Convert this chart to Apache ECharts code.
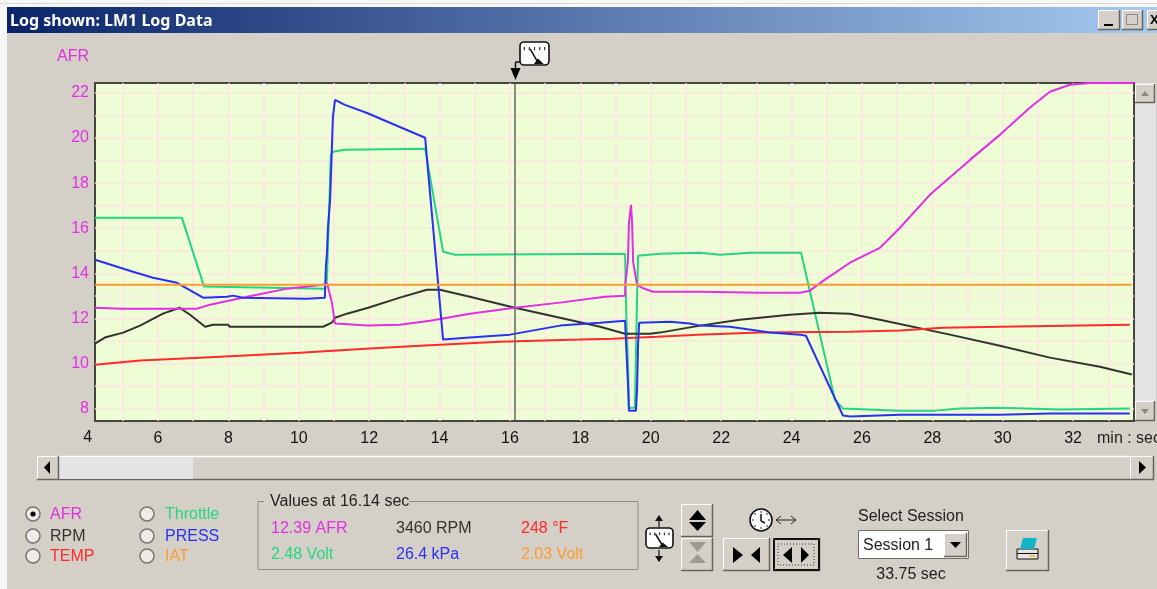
<!DOCTYPE html>
<html lang="en">
<head>
  <meta charset="UTF-8">
  <title>LM1 Log Data</title>
  <style>
    html,
    body,
    #main {
      margin: 0;
      padding: 0;
      overflow: hidden;
    }

    #main {
      width: 1157px;
      height: 589px;
    }
  </style>
</head>
<body>
  <div id="main"></div>
  <script src="https://cdn.jsdelivr.net/npm/echarts@6/dist/echarts.min.js"></script>
  <script>
    // [sec, AFR scale]
    const afrData = [[4.21,12.47],[5.01,12.43],[7.11,12.43],[7.48,12.61],[8.53,12.96],[9.67,13.32],[10.23,13.41],[10.69,13.49],[10.80,13.58],[10.94,12.70],[11.03,11.77],[11.97,11.68],[12.87,11.72],[13.73,11.90],[14.86,12.21],[16.14,12.47],[17.42,12.70],[18.70,12.96],[19.27,13.01],[19.28,13.58],[19.35,14.51],[19.38,16.24],[19.44,17.04],[19.47,16.24],[19.50,14.51],[19.61,13.49],[19.75,13.36],[20.06,13.18],[21.40,13.18],[23.10,13.14],[24.24,13.14],[24.52,13.23],[24.95,13.72],[25.66,14.47],[26.51,15.13],[27.08,16.02],[27.93,17.48],[29.07,19.03],[29.92,20.14],[30.77,21.34],[31.34,22.05],[31.91,22.36],[32.48,22.44],[33.73,22.44]];
    const rpmData = [[4.21,10.88],[4.49,11.15],[5.01,11.37],[5.49,11.68],[6.14,12.21],[6.62,12.47],[6.91,12.16],[7.34,11.63],[7.56,11.72],[7.99,11.72],[8.04,11.63],[10.69,11.63],[10.94,11.81],[11.03,12.03],[11.37,12.21],[11.97,12.47],[12.87,12.92],[13.64,13.27],[14.01,13.27],[14.86,12.96],[16.14,12.47],[17.42,12.03],[18.56,11.63],[19.27,11.32],[19.98,11.32],[20.26,11.37],[21.40,11.68],[22.53,11.94],[23.95,12.16],[24.80,12.25],[25.66,12.21],[26.51,11.94],[28.50,11.28],[29.92,10.79],[31.34,10.26],[32.76,9.86],[33.67,9.51]];
    const tempData = [[4.21,9.95],[5.49,10.13],[7.19,10.26],[10.03,10.48],[12.02,10.66],[13.44,10.79],[15.71,10.97],[17.99,11.06],[18.90,11.10],[20.18,11.19],[21.34,11.28],[23.10,11.37],[25.66,11.41],[27.08,11.46],[28.30,11.59],[29.92,11.63],[33.61,11.72]];
    const throttleData = [[4.21,16.46],[6.68,16.46],[7.31,13.41],[10.74,13.32],[10.80,13.72],[10.91,19.25],[10.97,19.39],[11.31,19.48],[13.59,19.52],[14.10,14.96],[14.44,14.82],[19.27,14.87],[19.30,12.39],[19.36,9.64],[19.38,8.04],[19.55,8.04],[19.61,12.83],[19.64,14.78],[20.26,14.87],[21.40,14.91],[21.97,14.82],[22.82,14.91],[24.27,14.91],[25.23,8.40],[25.46,8.00],[27.08,7.91],[28.07,7.91],[28.78,8.00],[29.92,8.04],[31.62,7.96],[33.61,8.00]];
    const pressData = [[4.21,14.60],[5.29,14.07],[5.86,13.80],[6.54,13.58],[7.28,12.92],[7.96,12.96],[8.13,13.01],[8.41,12.92],[10.23,12.87],[10.74,12.92],[10.77,14.29],[10.80,14.91],[10.83,16.06],[10.89,17.26],[10.94,19.56],[10.97,20.94],[11.03,21.69],[11.31,21.47],[11.94,21.11],[12.87,20.49],[13.59,20.01],[14.10,11.06],[14.86,11.15],[16.00,11.28],[17.42,11.68],[18.56,11.81],[19.27,11.90],[19.30,10.84],[19.36,8.84],[19.38,7.91],[19.58,7.91],[19.61,8.84],[19.64,10.84],[19.67,11.81],[20.55,11.85],[21.11,11.77],[21.40,11.68],[22.25,11.63],[23.39,11.37],[24.24,11.28],[24.41,11.23],[25.46,7.69],[25.66,7.65],[27.08,7.73],[29.92,7.73],[31.34,7.78],[33.61,7.78]];
    const iatData = [[4.21,13.49],[16.14,13.49],[25.66,13.49],[33.66,13.49]];

    const cursorSec = 16.14;
    const xLabels = [6, 8, 10, 12, 14, 16, 18, 20, 22, 24, 26, 28, 30, 32];
    const xGrid = [5, 6, 7, 8, 9, 10, 11, 12, 13, 14, 15, 16, 17, 18, 19, 20, 21, 22, 23, 24, 25, 26, 27, 28, 29, 30, 31, 32, 33];
    const yLabels = [8, 10, 12, 14, 16, 18, 20, 22];
    const yGrid = [8, 9, 10, 11, 12, 13, 14, 15, 16, 17, 18, 19, 20, 21, 22];

    const seriesNames = ['Throttle', 'RPM', 'TEMP', 'AFR', 'PRESS', 'IAT'];
    const seriesData = [throttleData, rpmData, tempData, afrData, pressData, iatData];
    const colors = { AFR: '#e22fe2', RPM: '#33332e', TEMP: '#ff2a2a', Throttle: '#24d682', PRESS: '#2a30f0', IAT: '#ff9a30' };

    const leftRadios = ['AFR', 'RPM', 'TEMP'];
    const rightRadios = ['Throttle', 'PRESS', 'IAT'];
    const valuesTitle = 'Values at 16.14 sec';
    const valueTexts = ['12.39 AFR', '3460 RPM', '248 °F', '2.48 Volt', '26.4 kPa', '2.03 Volt'];
    const valueKeys = ['AFR', 'RPM', 'TEMP', 'Throttle', 'PRESS', 'IAT'];

    const FONT = '"Liberation Sans", Arial, sans-serif';
    const FACE = '#d4d0c8';
    const g = [];

    const rect = (x, y, w, h, fill, stroke) => g.push({
      type: 'rect', silent: true, shape: { x, y, width: w, height: h },
      style: { fill: fill || 'none', stroke: stroke || 'none', lineWidth: 1 }
    });
    const line = (x1, y1, x2, y2, stroke, width) => g.push({
      type: 'line', silent: true, shape: { x1, y1, x2, y2 },
      style: { stroke, lineWidth: width || 1 }
    });
    const poly = (points, fill) => g.push({
      type: 'polygon', silent: true, shape: { points }, style: { fill }
    });
    const text = (x, y, str, fill, opt) => g.push({
      type: 'text', silent: true, x, y: y + 1,
      style: Object.assign({
        text: str, fill: fill || '#222', font: '16px ' + FONT, verticalAlign: 'middle', align: 'left'
      }, opt)
    });
    const button = (x, y, w, h) => {
      rect(x, y, w, h, FACE);
      line(x, y + 0.5, x + w, y + 0.5, '#fff');
      line(x + 0.5, y, x + 0.5, y + h, '#fff');
      line(x, y + h - 0.5, x + w, y + h - 0.5, '#66645f', 1.5);
      line(x + w - 0.5, y, x + w - 0.5, y + h, '#66645f', 1.5);
    };
    const gauge = (x, y, w, h) => {
      g.push({
        type: 'rect', silent: true, shape: { x, y, width: w, height: h, r: 4 },
        style: { fill: '#fff', stroke: '#111', lineWidth: 1.6 }
      });
      line(x + w * 0.35, y + h * 0.3, x + w * 0.6, y + h * 0.85, '#111', 1.5);
      poly([[x + w * 0.48, y + h - 1], [x + w * 0.82, y + h - 1], [x + w * 0.62, y + h * 0.72]], '#111');
      [0.15, 0.32, 0.5, 0.68, 0.85].forEach(k => line(x + w * k, y + h * 0.22, x + w * k, y + h * 0.36, '#333', 1.2));
    };
    const radio = (x, y, on) => {
      g.push({ type: 'circle', silent: true, shape: { cx: x, cy: y, r: 7 }, style: { fill: '#eeece8', stroke: '#77746e', lineWidth: 1.5 } });
      if (on) g.push({ type: 'circle', silent: true, shape: { cx: x, cy: y, r: 2.6 }, style: { fill: '#000' } });
    };

    // page edge and title bar
    rect(0, 0, 1157, 7, '#f7f7f7');
    rect(0, 0, 7, 589, '#f7f7f7');
    line(0, 3.5, 1157, 3.5, '#d8d8d8', 1);
    g.push({
      type: 'rect', silent: true, shape: { x: 7, y: 7, width: 1150, height: 26 },
      style: {
        fill: new echarts.graphic.LinearGradient(0, 0, 1, 0, [
          { offset: 0, color: '#0a246a' },
          { offset: 1, color: '#a6caf0' }
        ])
      }
    });
    text(10, 20, 'Log shown: LM1 Log Data', '#fff', { font: 'bold 16px "Noto Sans", sans-serif' });
    button(1098, 10, 22, 20);
    line(1104, 25, 1113, 25, '#000', 2);
    button(1122, 10, 21, 20);
    rect(1126.5, 14.5, 11, 10, 'none', '#8a8880');
    button(1147, 10, 12, 20);
    text(1150, 19, 'X', '#000', { font: 'bold 13px ' + FONT });

    // cursor marker above the plot
    text(57, 56, 'AFR', colors.AFR);
    gauge(520, 42, 29, 23);
    line(520, 62, 515.5, 62, '#111', 1.5);
    line(515.5, 62, 515.5, 70, '#111', 1.5);
    poly([[510.5, 68], [520.5, 68], [515.5, 80]], '#000');

    // vertical scrollbar
    rect(1135, 83, 21, 338, '#e6e3e6');
    button(1135, 84, 20, 19);
    poly([[1141, 96], [1149, 96], [1145, 91]], '#8a8880');
    button(1135, 401, 20, 20);
    poly([[1141, 409], [1149, 409], [1145, 414]], '#8a8880');
    text(1097, 438, 'min : sec', '#222');
    text(87.6, 437, '4', '#111', { align: 'center' });

    // horizontal scrollbar
    rect(37, 456, 1117, 24, FACE);
    line(59, 456.5, 1130, 456.5, '#fff', 1.5);
    line(59, 479.5, 1130, 479.5, '#66645f', 1.5);
    rect(59, 457, 134, 22, '#e6e3e6');
    button(37, 456, 22, 24);
    poly([[50, 461], [50, 474], [44, 467.5]], '#000');
    button(1130, 456, 24, 24);
    poly([[1139, 461], [1139, 474], [1146, 467.5]], '#000');

    // radio buttons
    const radioRows = [514, 536, 556];
    leftRadios.forEach((name, i) => {
      radio(33, radioRows[i], i === 0);
      text(50, radioRows[i], name, colors[name]);
    });
    rightRadios.forEach((name, i) => {
      radio(147, radioRows[i], false);
      text(165, radioRows[i], name, colors[name]);
    });

    // values box
    rect(258, 501.5, 380, 68, 'none', '#8f8d88');
    rect(264, 495, 145, 12, FACE);
    text(270, 501, valuesTitle, '#222');
    const colX = [271, 396, 521];
    valueTexts.forEach((t, i) => {
      text(colX[i % 3], i < 3 ? 528 : 554, t, colors[valueKeys[i]]);
    });

    // cursor move controls
    gauge(646, 528, 27, 20);
    line(659, 516, 659, 527, '#111', 1.2);
    poly([[655, 521], [663, 521], [659, 515]], '#111');
    line(659, 550, 659, 561, '#111', 1.2);
    poly([[655, 556], [663, 556], [659, 562]], '#111');
    button(681, 504, 32, 33);
    poly([[689, 520], [706, 520], [697.5, 510]], '#000');
    poly([[689, 522], [706, 522], [697.5, 531]], '#000');
    button(681, 538, 32, 33);
    poly([[689, 542], [706, 542], [697.5, 552]], '#9c9a94');
    poly([[689, 563], [706, 563], [697.5, 554]], '#9c9a94');

    // time zoom controls
    g.push({ type: 'circle', silent: true, shape: { cx: 761, cy: 520, r: 11 }, style: { fill: '#fff', stroke: '#111', lineWidth: 1.6 } });
    [[761, 512], [769, 520], [761, 528], [753, 520], [767, 514], [767, 526], [755, 526], [755, 514]].forEach(p => {
      g.push({ type: 'circle', silent: true, shape: { cx: p[0], cy: p[1], r: 0.8 }, style: { fill: '#111' } });
    });
    line(761, 514, 761, 521, '#111', 1.5);
    line(761, 521, 765, 523, '#111', 1.5);
    line(776, 520, 796, 520, '#222', 1);
    line(776, 520, 781, 516, '#222', 1);
    line(776, 520, 781, 524, '#222', 1);
    line(796, 520, 791, 516, '#222', 1);
    line(796, 520, 791, 524, '#222', 1);
    button(723, 538, 47, 33);
    poly([[733, 547], [733, 563], [743, 555]], '#000');
    poly([[760, 547], [760, 563], [751, 555]], '#000');
    button(773, 538, 47, 33);
    rect(773.5, 538.5, 46, 32, 'none', '#111');
    rect(774.5, 539.5, 44, 30, 'none', '#111');
    g.push({
      type: 'rect', silent: true, shape: { x: 778, y: 544, width: 36, height: 21 },
      style: { fill: 'none', stroke: '#333', lineWidth: 1, lineDash: [1, 2] }
    });
    poly([[792, 547], [792, 563], [783, 555]], '#000');
    poly([[801, 547], [801, 563], [809, 555]], '#000');

    // session selector
    text(858, 516, 'Select Session', '#222');
    rect(858, 530, 111, 29, '#fff');
    rect(858.5, 530.5, 110, 28, 'none', '#6f6d68');
    text(863, 545, 'Session 1', '#222');
    button(944, 533, 23, 24);
    poly([[950, 542], [961, 542], [955.5, 548]], '#000');
    text(911, 574, '33.75 sec', '#222', { align: 'center' });

    // print button
    button(1006, 530, 43, 41);
    rect(1017, 549, 21, 10, '#e4e4e4', '#111');
    poly([[1020, 549], [1023, 538], [1037, 538], [1034, 549]], '#12b5c4');
    line(1017, 553.5, 1038, 553.5, '#111', 1);
    rect(1030, 555, 5, 2, '#e8d020');

    const myChart = echarts.init(document.getElementById('main'));
    const option = {
      animation: false,
      backgroundColor: FACE,
      grid: {
        show: true,
        left: 95,
        right: 23,
        top: 83,
        bottom: 168,
        backgroundColor: '#eefdd6',
        borderColor: '#45453f',
        borderWidth: 2,
        containLabel: false
      },
      xAxis: {
        type: 'value',
        min: 4.21,
        max: 33.73,
        axisLine: { show: false },
        axisTick: { show: false, customValues: xGrid },
        splitLine: { show: true, lineStyle: { color: '#fde6e0', width: 1.5 } },
        axisLabel: {
          customValues: xLabels,
          color: '#111',
          fontFamily: 'Liberation Sans',
          fontSize: 16,
          margin: 10
        }
      },
      yAxis: {
        type: 'value',
        min: 7.45,
        max: 22.44,
        axisLine: { show: false },
        axisTick: { show: false, customValues: yGrid },
        splitLine: { show: true, lineStyle: { color: '#fde6e0', width: 1.5 } },
        axisLabel: {
          customValues: yLabels,
          color: colors.AFR,
          fontFamily: 'Liberation Sans',
          fontSize: 16,
          padding: [2, 0, 0, 0],
          margin: 6
        }
      },
      series: seriesNames.map(name => ({
        name,
        type: 'line',
        data: seriesData[seriesNames.indexOf(name)],
        showSymbol: false,
        clip: true,
        lineStyle: { color: colors[name], width: 2 },
        markLine: name === 'AFR' ? {
          silent: true,
          symbol: 'none',
          label: { show: false },
          lineStyle: { color: '#66645f', type: 'solid', width: 1.5 },
          data: [{ xAxis: cursorSec }]
        } : undefined
      })),
      graphic: { elements: g }
    };

    myChart.setOption(option);
  </script>
</body>

</html>
